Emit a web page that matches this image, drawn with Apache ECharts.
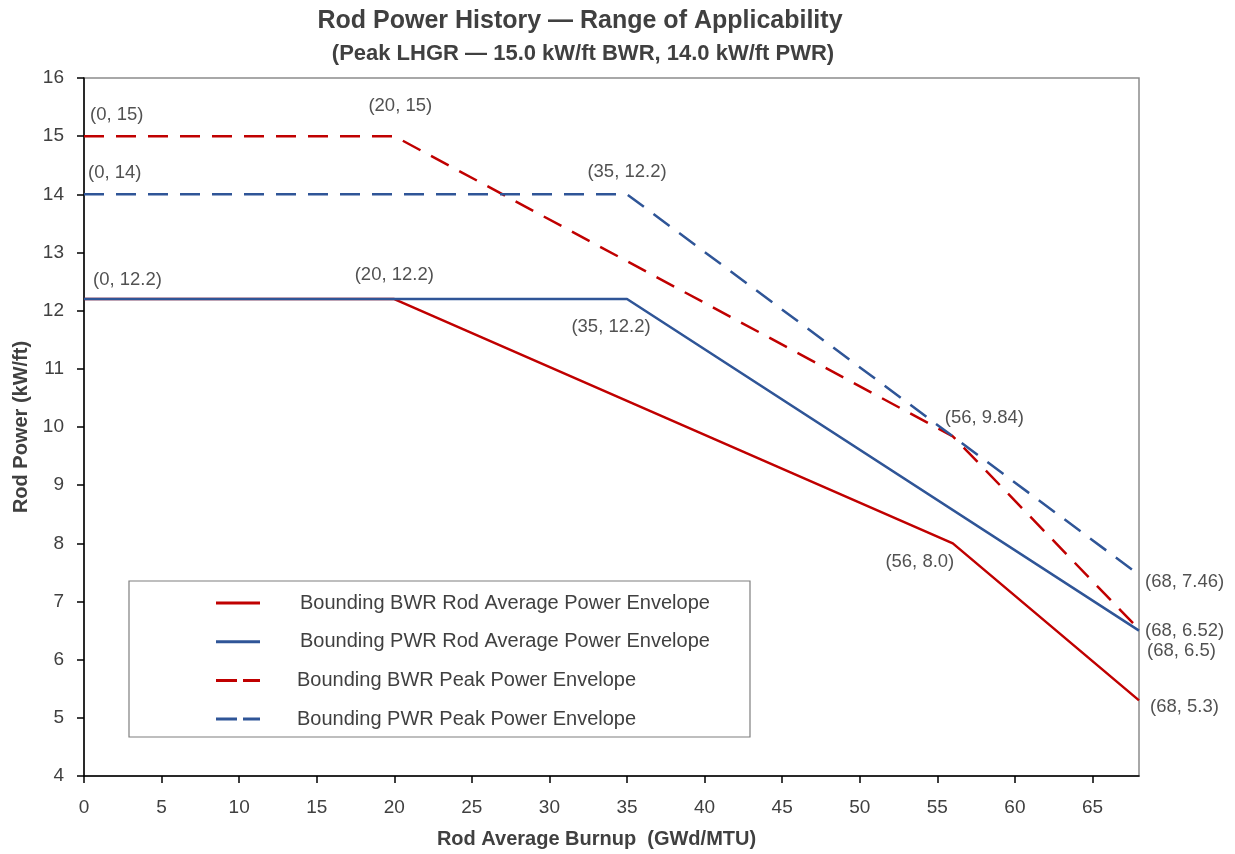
<!DOCTYPE html>
<html><head><meta charset="utf-8">
<script src="https://cdn.jsdelivr.net/npm/echarts@6/dist/echarts.min.js"></script>
<style>html,body{margin:0;padding:0;background:#fff}#c{width:1235px;height:854px}</style>
</head><body><div id="c"></div>
<script>
const seriesNames = [
  'Bounding BWR Rod Average Power Envelope',
  'Bounding PWR Rod Average Power Envelope',
  'Bounding BWR Peak Power Envelope',
  'Bounding PWR Peak Power Envelope'
];
const bwrAvg = [[0, 12.2], [20, 12.2], [56, 8.0], [68, 5.3]];
const pwrAvg = [[0, 12.2], [35, 12.2], [68, 6.5]];
const bwrPeak = [[0, 15], [20, 15], [56, 9.84], [68, 6.52]];
const pwrPeak = [[0, 14], [35, 14], [68, 7.46]];
const xTicks = [0, 5, 10, 15, 20, 25, 30, 35, 40, 45, 50, 55, 60, 65];
const yTicks = [4, 5, 6, 7, 8, 9, 10, 11, 12, 13, 14, 15, 16];
// annotation labels: [x, y, text]
const annotations = [
  [0, 15, '(0, 15)'], [20, 15, '(20, 15)'], [0, 14, '(0, 14)'], [35, 14, '(35, 12.2)'],
  [0, 12.2, '(0, 12.2)'], [20, 12.2, '(20, 12.2)'], [35, 12.2, '(35, 12.2)'],
  [56, 9.84, '(56, 9.84)'], [56, 8.0, '(56, 8.0)'], [68, 7.46, '(68, 7.46)'],
  [68, 6.52, '(68, 6.52)'], [68, 6.5, '(68, 6.5)'], [68, 5.3, '(68, 5.3)']
];
const RED = '#C00000', BLUE = '#2F5597';
const FONT = 'Liberation Sans, Arial, sans-serif';
const labelOffsets = [
  [6, -21, 'left'], [6, -30, 'center'], [4, -21, 'left'], [0, -22, 'center'],
  [9, -19, 'left'], [0, -24, 'center'], [-16, 28, 'center'],
  [-8, -18, 'left'], [-33, 19, 'center'], [6, 7, 'left'],
  [6, 1, 'left'], [8, 20, 'left'], [11, 7, 'left']
];
const annData = annotations.map((a, i) => ({
  value: [a[0], a[1]],
  label: {
    show: true, formatter: a[2], position: 'inside',
    offset: [labelOffsets[i][0], labelOffsets[i][1]], align: labelOffsets[i][2],
    verticalAlign: 'middle', color: '#262626', fontSize: 18.5, fontFamily: FONT
  }
}));
function lineSeries(name, data, color, dashed) {
  return {
    name, type: 'line', data, symbol: 'none', color,
    lineStyle: { color, width: 2.5, type: dashed ? [20, 12] : 'solid' },
    itemStyle: { color }, z: 3, animation: false
  };
}
const SOLID_ICON = 'path://M0,0 L44,0 L44,3 L0,3 Z';
const DASH_ICON = 'path://M0,0 L21,0 L21,3 L0,3 Z M27,0 L44,0 L44,3 L27,3 Z';
const chart = echarts.init(document.getElementById('c'));
chart.setOption({
  animation: false,
  title: [
    { text: 'Rod Power History — Range of Applicability', left: 575, top: 4, textAlign: 'center',
      textStyle: { fontSize: 25, fontWeight: 'bold', color: '#404040', fontFamily: FONT } },
    { text: '(Peak LHGR — 15.0 kW/ft BWR, 14.0 kW/ft PWR)', left: 578, top: 38, textAlign: 'center',
      textStyle: { fontSize: 22, fontWeight: 'bold', color: '#404040', fontFamily: FONT } }
  ],
  grid: { left: 84, right: 96, top: 78, bottom: 78, show: true, borderColor: '#8c8c8c', borderWidth: 1.5,
    outerBoundsMode: 'none', containLabel: false },
  xAxis: {
    type: 'value', min: 0, max: 68, interval: 5,
    name: 'Rod Average Burnup  (GWd/MTU)', nameLocation: 'middle', nameGap: 53,
    nameTextStyle: { fontSize: 20, fontWeight: 'bold', color: '#404040', fontFamily: FONT, padding: [0, 30, 0, 0] },
    axisLine: { show: true, lineStyle: { color: '#000', width: 1.5 } },
    axisTick: { show: true, inside: false, length: 7, lineStyle: { color: '#000', width: 1.5 } },
    axisLabel: { fontSize: 19, color: '#404040', margin: 22, fontFamily: FONT, showMaxLabel: false,
      formatter: v => xTicks.includes(v) ? String(v) : '' },
    splitLine: { show: false }
  },
  yAxis: {
    type: 'value', min: 4, max: 16, interval: 1,
    name: 'Rod Power (kW/ft)', nameLocation: 'middle', nameGap: 53,
    nameTextStyle: { fontSize: 20, fontWeight: 'bold', color: '#404040', fontFamily: FONT },
    axisLine: { show: true, lineStyle: { color: '#000', width: 1.5 } },
    axisTick: { show: true, inside: false, length: 7, lineStyle: { color: '#000', width: 1.5 } },
    axisLabel: { fontSize: 19, color: '#404040', margin: 20, fontFamily: FONT,
      formatter: v => yTicks.includes(v) ? String(v) : '' },
    splitLine: { show: false }
  },
  legend: {
    orient: 'vertical', left: 211, top: 588, itemWidth: 44, itemHeight: 3, itemGap: 18.7,
    data: [
      { name: seriesNames[0], icon: SOLID_ICON, textStyle: { padding: [0, 0, 0, 35] } },
      { name: seriesNames[1], icon: SOLID_ICON, textStyle: { padding: [0, 0, 0, 35] } },
      { name: seriesNames[2], icon: DASH_ICON, textStyle: { padding: [0, 0, 0, 32] } },
      { name: seriesNames[3], icon: DASH_ICON, textStyle: { padding: [0, 0, 0, 32] } }
    ],
    textStyle: { fontSize: 20, color: '#404040', fontFamily: FONT, lineHeight: 20 },
    selectedMode: false
  },
  graphic: [{
    type: 'rect', shape: { x: 129, y: 581, width: 621, height: 156 },
    style: { fill: '#fff', stroke: '#7f7f7f', lineWidth: 1.2 }, z: 0, silent: true
  }],
  series: [
    lineSeries(seriesNames[0], bwrAvg, RED, false),
    lineSeries(seriesNames[1], pwrAvg, BLUE, false),
    lineSeries(seriesNames[2], bwrPeak, RED, true),
    lineSeries(seriesNames[3], pwrPeak, BLUE, true),
    { type: 'scatter', data: annData, symbol: 'circle', symbolSize: 1,
      itemStyle: { color: 'rgba(0,0,0,0)' }, silent: true, z: 5, animation: false }
  ]
});
</script></body></html>
